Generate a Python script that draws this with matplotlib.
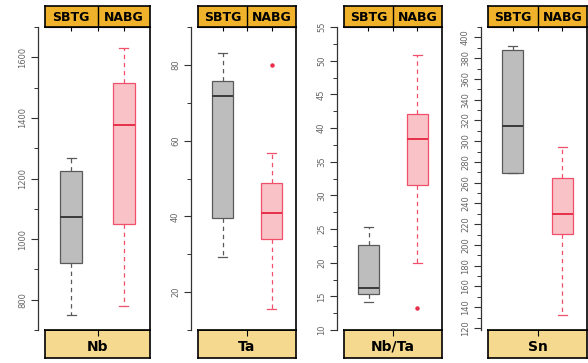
import numpy as np
import matplotlib
matplotlib.use("Agg")
import matplotlib.pyplot as plt
from matplotlib.ticker import MultipleLocator

groups = ["SBTG", "NABG"]
elements = ["Nb", "Ta", "Nb/Ta", "Sn"]

# five-number summaries: lower whisker, Q1, median, Q3, upper whisker
nb_sbtg = [748, 921, 1072, 1226, 1269]
nb_nabg = [780, 1049, 1377, 1515, 1630]
ta_sbtg = [29.2, 39.7, 71.8, 75.8, 83.2]
ta_nabg = [15.5, 34.0, 40.8, 48.7, 56.8]
nbta_sbtg = [14.1, 15.3, 16.2, 22.6, 25.3]
nbta_nabg = [20.0, 31.6, 38.4, 42.1, 50.9]
sn_sbtg = [269, 269, 315, 387.5, 392]
sn_nabg = [132.6, 210.5, 230, 264.4, 294]

# outliers per element and group
outliers = {
    "Nb": ([], []),
    "Ta": ([], [80.0]),
    "Nb/Ta": ([], [13.2]),
    "Sn": ([], []),
}

summaries = {
    "Nb": (nb_sbtg, nb_nabg),
    "Ta": (ta_sbtg, ta_nabg),
    "Nb/Ta": (nbta_sbtg, nbta_nabg),
    "Sn": (sn_sbtg, sn_nabg),
}

ylims = {"Nb": (700, 1700), "Ta": (10, 90), "Nb/Ta": (10, 55), "Sn": (118, 410)}
major_step = {"Nb": 200, "Ta": 20, "Nb/Ta": 5, "Sn": 20}

# panel positions in pixels (left, right)
W, H = 588, 363
panels_px = [(45, 150), (198, 296), (344, 442), (488, 587)]

box_face = ["#bdbdbd", "#f8c2c7"]
box_edge = ["#5a5a5a", "#f0506a"]
median_col = ["#3a3a3a", "#e8304a"]
header_col = "#f0b22a"
strip_col = "#f5d98e"

fig = plt.figure(figsize=(W / 100, H / 100), dpi=100)

plot_bottom = (H - 330) / H
plot_height = 303 / H

for el, (x0, x1) in zip(elements, panels_px):
    left = x0 / W
    width = (x1 - x0) / W
    ax = fig.add_axes([left, plot_bottom, width, plot_height])

    stats = []
    for i, s in enumerate(summaries[el]):
        stats.append(dict(whislo=s[0], q1=s[1], med=s[2], q3=s[3],
                          whishi=s[4], fliers=outliers[el][i], label=groups[i]))
    bp = ax.bxp(stats, positions=[1, 2], widths=0.42, patch_artist=True,
                showfliers=True)
    for i in range(2):
        bp["boxes"][i].set(facecolor=box_face[i], edgecolor=box_edge[i], linewidth=0.9)
        bp["medians"][i].set(color=median_col[i], linewidth=1.4)
        for w in bp["whiskers"][2 * i:2 * i + 2]:
            w.set(color=box_edge[i], linestyle=(0, (3.5, 3)), linewidth=0.9)
        for c in bp["caps"][2 * i:2 * i + 2]:
            c.set(color=box_edge[i], linewidth=0.9)
            c.set_xdata(np.array([i + 1 - 0.09, i + 1 + 0.09]))
        bp["fliers"][i].set(marker="o", markersize=2.2, markerfacecolor="#e8304a",
                            markeredgecolor="#e8304a")

    ax.set_xlim(0.5, 2.5)
    ax.set_ylim(*ylims[el])
    ax.yaxis.set_major_locator(MultipleLocator(major_step[el]))
    ax.yaxis.set_minor_locator(MultipleLocator(major_step[el] / 2))
    ax.spines["left"].set_position(("outward", 5))
    ax.spines["left"].set_linewidth(0.9)
    ax.spines["left"].set_color("#333333")
    for side in ["top", "right", "bottom"]:
        ax.spines[side].set_linewidth(1.2)
    ax.tick_params(axis="y", which="major", length=5, width=0.8, labelsize=6,
                   labelcolor="#666666", color="#333333", labelrotation=90, pad=3)
    ax.tick_params(axis="y", which="minor", length=3, width=0.7, color="#333333")
    for lab in ax.get_yticklabels():
        lab.set_va("center")

    ax.set_xticks([1.5])
    ax.set_xticklabels([])
    ax.tick_params(axis="x", which="major", direction="out", length=4, width=0.8,
                   top=False, bottom=True)
    top_ax = ax.secondary_xaxis("top")
    top_ax.set_xticks([1, 1.5, 2])
    top_ax.set_xticklabels([])
    top_ax.tick_params(direction="in", length=3, width=0.8)

    # header strip with group names
    hdr = fig.add_axes([left, (H - 27) / H, width, 21 / H])
    hdr.set_facecolor(header_col)
    hdr.set_xlim(0, 1)
    hdr.set_ylim(0, 1)
    hdr.set_xticks([])
    hdr.set_yticks([])
    hdr.axvline(0.5, color="black", linewidth=1)
    for sp in hdr.spines.values():
        sp.set_linewidth(1.2)
    hdr.text(0.25, 0.47, groups[0], ha="center", va="center", fontsize=9,
             fontweight="heavy")
    hdr.text(0.75, 0.47, groups[1], ha="center", va="center", fontsize=9,
             fontweight="heavy")

    # bottom strip with element name
    ftr = fig.add_axes([left, (H - 358) / H, width, 28 / H], zorder=-1)
    ftr.set_facecolor(strip_col)
    ftr.set_xticks([])
    ftr.set_yticks([])
    for sp in ftr.spines.values():
        sp.set_linewidth(1.2)
    ftr.text(0.5, 0.4, el, ha="center", va="center", fontsize=10,
             fontweight="heavy", transform=ftr.transAxes)

fig.savefig("out.png", dpi=100)
